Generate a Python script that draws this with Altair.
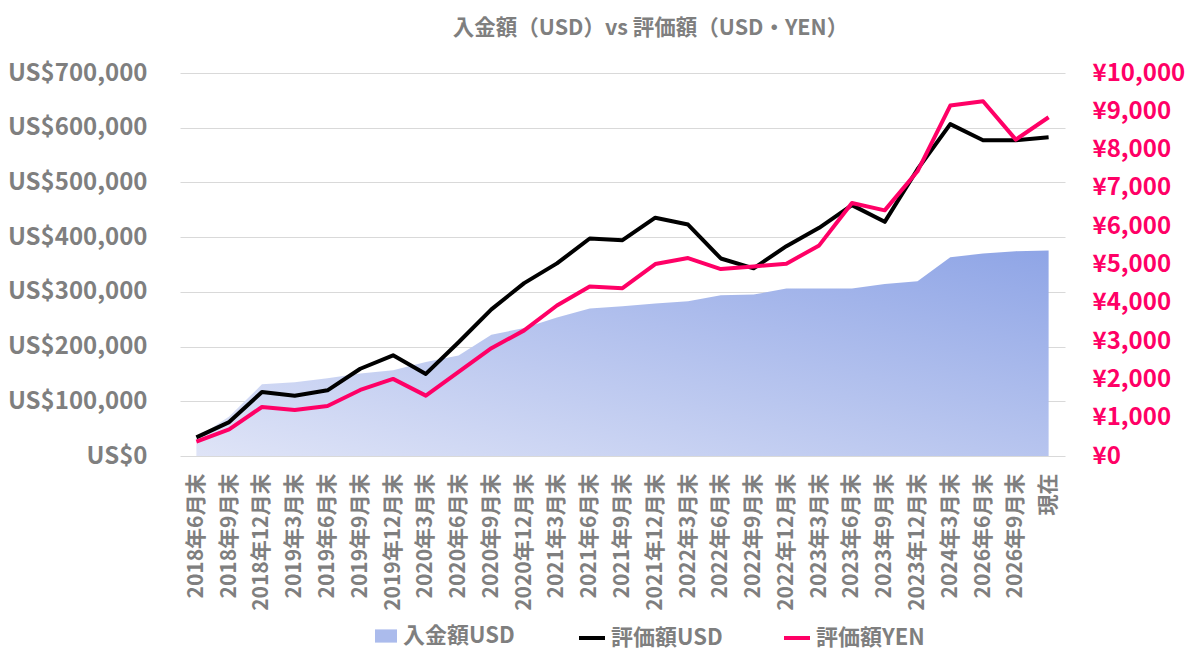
import altair as alt
import pandas as pd

labels = ["2018年6月末", "2018年9月末", "2018年12月末", "2019年3月末", "2019年6月末",
          "2019年9月末", "2019年12月末", "2020年3月末", "2020年6月末", "2020年9月末",
          "2020年12月末", "2021年3月末", "2021年6月末", "2021年9月末", "2021年12月末",
          "2022年3月末", "2022年6月末", "2022年9月末", "2022年12月末", "2023年3月末",
          "2023年6月末", "2023年9月末", "2023年12月末", "2024年3月末", "2026年6月末",
          "2026年9月末", "現在"]

deposit_usd = [33000, 72000, 131000, 135000, 142000, 151000, 156500, 172000, 183500, 221700,
               234000, 253000, 269500, 273500, 278600, 283000, 293800, 295000, 306000, 306000,
               306000, 314500, 319400, 363400, 370000, 374400, 375600]

value_usd = [34000, 62000, 117000, 110000, 120000, 159500, 184000, 150000, 208000, 268000,
             316000, 352000, 397500, 394500, 435500, 423000, 361000, 343000, 383500, 417000,
             458500, 428000, 524000, 606500, 577000, 577000, 582500]

value_yen = [375, 697, 1280, 1203, 1307, 1725, 2013, 1577, 2196, 2815,
             3280, 3930, 4427, 4383, 5011, 5168, 4880, 4950, 5020, 5499,
             6606, 6414, 7434, 9150, 9264, 8261, 8845]

usd_ticks = [0, 100000, 200000, 300000, 400000, 500000, 600000, 700000]
yen_ticks = [0, 1000, 2000, 3000, 4000, 5000, 6000, 7000, 8000, 9000, 10000]

series_names = ["入金額USD", "評価額USD", "評価額YEN"]
title_text = "入金額（USD）vs 評価額（USD・YEN）"

df = pd.DataFrame({"label": labels, "deposit": deposit_usd,
                   "value_usd": value_usd, "value_yen": value_yen})

FONT = "Noto Sans CJK JP"
GRAY = "#7F7F7F"
PINK = "#FF0066"

x_enc = alt.X("label:N", sort=None, scale=alt.Scale(type="point", padding=0.5),
              axis=alt.Axis(title=None, labelAngle=270, labelAlign="right", labelBaseline="middle",
                            labelFontSize=21, labelFont=FONT, labelFontWeight="bold",
                            labelColor=GRAY, labelPadding=17, ticks=False, domain=False,
                            labelOverlap=False, grid=False, labelLimit=300))

usd_scale = alt.Scale(domain=[0, 700000], nice=False, zero=True)


def legend(x, symbol_type, size):
    return alt.Legend(orient="none", legendX=x, legendY=550, title=None,
                      symbolType=symbol_type, symbolSize=size, symbolStrokeWidth=4,
                      labelFont=FONT, labelFontSize=22, labelFontWeight="bold",
                      labelColor=GRAY, labelOffset=4, padding=0, labelLimit=400)


gradient = alt.Gradient(gradient="linear",
                        stops=[alt.GradientStop(color="#DFE4F7", offset=0),
                               alt.GradientStop(color="#8FA5E6", offset=1)],
                        x1=0, y1=1, x2=1, y2=0)

area = alt.Chart(df).mark_area(fill=gradient).encode(
    x=x_enc,
    y=alt.Y("deposit:Q", scale=usd_scale,
            axis=alt.Axis(title=None, values=usd_ticks,
                          labelExpr="'US$' + format(datum.value, ',')",
                          labelFont=FONT, labelFontSize=24, labelFontWeight="bold",
                          labelColor=GRAY, labelPadding=33, ticks=False, domain=False,
                          grid=True, gridColor="#D9D9D9", gridWidth=1)),
)

area_key = alt.Chart(df).transform_filter("datum.deposit < 0").transform_calculate(
    s="'入金額USD'").mark_point(filled=True, opacity=1).encode(
    x=x_enc,
    y=alt.Y("deposit:Q", scale=usd_scale, axis=None),
    color=alt.Color("s:N", scale=alt.Scale(domain=[series_names[0]], range=["#ABBBEC"]),
                    legend=legend(193, "M-1,-0.6H1V0.6H-1Z", 484)),
)

black = alt.Chart(df).transform_calculate(s="'評価額USD'").mark_line(
    strokeWidth=4, strokeJoin="round").encode(
    x=x_enc,
    y=alt.Y("value_usd:Q", scale=usd_scale, axis=None),
    color=alt.Color("s:N", scale=alt.Scale(domain=[series_names[1]], range=["#000000"]),
                    legend=legend(397, "stroke", 676)),
)

pink = alt.Chart(df).transform_calculate(s="'評価額YEN'").mark_line(
    strokeWidth=4, strokeJoin="round").encode(
    x=x_enc,
    y=alt.Y("value_yen:Q", scale=alt.Scale(domain=[0, 10000], nice=False),
            axis=alt.Axis(title=None, orient="right", values=yen_ticks,
                          labelExpr="'¥' + format(datum.value, ',')",
                          labelFont=FONT, labelFontSize=24, labelFontWeight="bold",
                          labelColor=PINK, labelPadding=27, ticks=False, domain=False,
                          grid=False)),
    color=alt.Color("s:N", scale=alt.Scale(domain=[series_names[2]], range=[PINK]),
                    legend=legend(602, "stroke", 676)),
)

chart = alt.layer(area, area_key, black, pink).resolve_scale(
    y="independent", color="independent"
).properties(
    width=885, height=383,
    autosize=alt.AutoSizeParams(type="none"),
    padding={"left": 172, "top": 65, "right": 125, "bottom": 200},
    title=alt.Title(text=title_text, font=FONT, fontSize=21.5, fontWeight="bold",
                    color=GRAY, anchor="middle", dx=28, offset=22, frame="group"),
    background="white",
).configure_view(stroke=None)

chart.save("out.html", embed_options={"renderer": "svg", "actions": False})
